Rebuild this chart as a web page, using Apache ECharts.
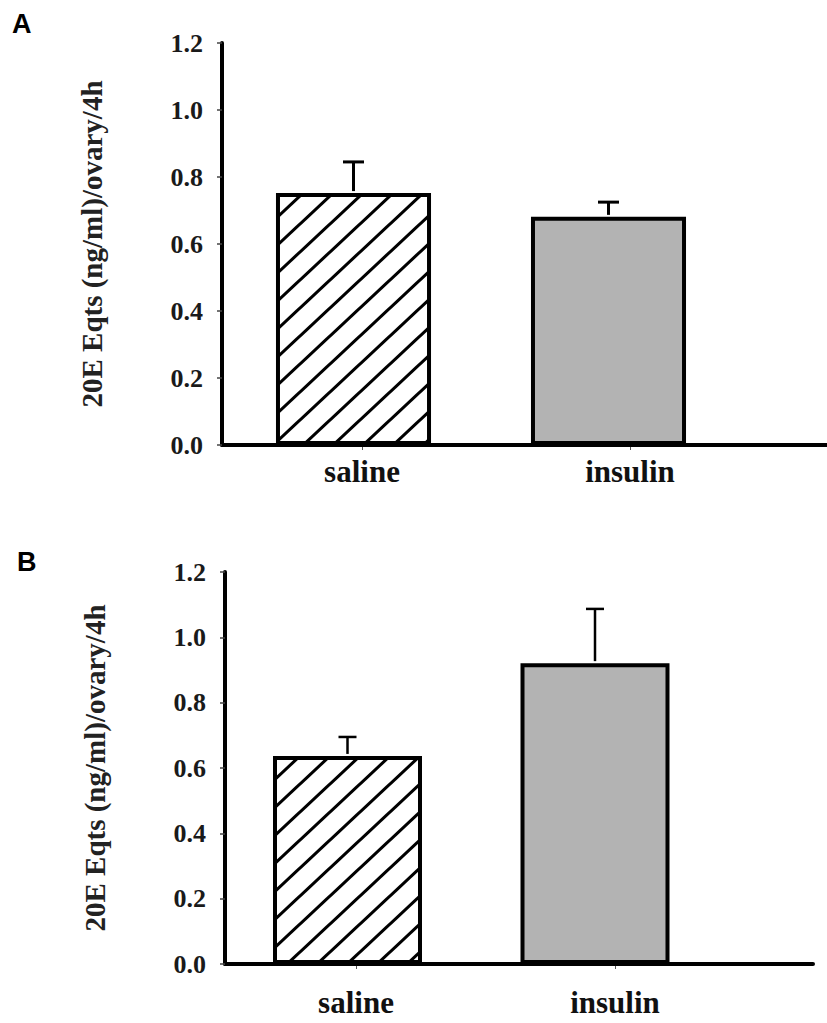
<!DOCTYPE html>
<html>
<head>
<meta charset="utf-8">
<script src="https://cdn.jsdelivr.net/npm/echarts@6/dist/echarts.min.js"></script>
<style>
  html, body { margin: 0; padding: 0; background: #fff; }
  #chart { width: 827px; height: 1023px; }
</style>
</head>
<body>
<div id="chart"></div>
<script>
// ---- data ----
const categories = ['saline', 'insulin'];
const meanA = [0.752, 0.681];
const errA  = [0.093, 0.044];
const meanB = [0.637, 0.921];
const errB  = [0.058, 0.166];
const yMin = 0, yMax = 1.2, yStep = 0.2;
const yTitle = '20E Eqts (ng/ml)/ovary/4h';
const panelLetters = ['A', 'B'];

// ---- hatch pattern ("/" diagonals) ----
function makeHatch() {
  const W = 30, H = 28;
  const c = document.createElement('canvas');
  c.width = W; c.height = H;
  const ctx = c.getContext('2d');
  ctx.fillStyle = '#ffffff';
  ctx.fillRect(0, 0, W, H);
  ctx.strokeStyle = '#000000';
  ctx.lineWidth = 3.1;
  for (let k = -1; k <= 1; k++) {
    ctx.beginPath();
    ctx.moveTo(-W + k * W, 2 * H);
    ctx.lineTo(2 * W + k * W, -H);
    ctx.stroke();
  }
  return c;
}
const hatch = makeHatch();

const serif = 'Liberation Serif';
const gridBase = { outerBoundsMode: 'none', containLabel: false };

// panel layout (pixels)
const panels = [
  { top: 43,  height: 402, axisLeft: 222, frameWidth: 620, labelLeft: 228, labelWidth: 536,
    barLeft: 226, barWidth: 510, barPct: '60.8%', labelMargin: 11, capHalf: 10.5, errWidth: 3,
    mean: meanA, err: errA },
  { top: 572, height: 392, axisLeft: 225, frameWidth: 588, labelLeft: 226.5, labelWidth: 518,
    barLeft: 223.75, barWidth: 495, barPct: '60.2%', labelMargin: 23, capHalf: 9, errWidth: 2.5,
    mean: meanB, err: errB }
];

const grid = [], xAxis = [], yAxis = [], series = [], graphic = [];

panels.forEach((p, i) => {
  const g0 = grid.length;
  // frame grid: y axis + x axis line
  grid.push(Object.assign({ left: p.axisLeft, top: p.top, width: p.frameWidth, height: p.height }, gridBase));
  // label grid
  grid.push(Object.assign({ left: p.labelLeft, top: p.top, width: p.labelWidth, height: p.height }, gridBase));
  // bar grid
  grid.push(Object.assign({ left: p.barLeft, top: p.top, width: p.barWidth, height: p.height }, gridBase));

  // frame axes
  xAxis.push({
    gridIndex: g0, type: 'category', data: categories,
    axisLine: { show: true, lineStyle: { color: '#000', width: 4 } },
    axisTick: { show: false }, axisLabel: { show: false }, splitLine: { show: false }, z: 3
  });
  yAxis.push({
    gridIndex: g0, type: 'value', min: yMin, max: yMax, interval: yStep,
    axisLine: { show: true, lineStyle: { color: '#000', width: 4 } },
    axisTick: { show: true, inside: false, length: 5, lineStyle: { color: '#444', width: 1.5 } },
    axisLabel: {
      show: true, margin: 19, fontFamily: serif, fontWeight: 'bold', fontSize: 26, color: '#1a1a1a',
      formatter: v => v.toFixed(1)
    },
    splitLine: { show: false },
    name: yTitle, nameLocation: 'middle', nameGap: 116, nameRotate: 90,
    nameTextStyle: { fontFamily: serif, fontWeight: 'bold', fontSize: 29, color: '#222' },
    z: 3
  });
  // label axes
  xAxis.push({
    gridIndex: g0 + 1, type: 'category', data: categories,
    axisLine: { show: false },
    axisTick: { show: true, alignWithLabel: true, length: 5, lineStyle: { color: '#555', width: 1 } },
    axisLabel: { show: true, interval: 0, margin: p.labelMargin, fontFamily: serif, fontWeight: 'bold', fontSize: 31, color: '#111' },
    splitLine: { show: false }
  });
  yAxis.push({ gridIndex: g0 + 1, type: 'value', min: yMin, max: yMax, show: false });
  // bar axes
  xAxis.push({ gridIndex: g0 + 2, type: 'category', data: categories, show: false });
  yAxis.push({ gridIndex: g0 + 2, type: 'value', min: yMin, max: yMax, show: false });

  series.push({
    type: 'bar', xAxisIndex: g0 + 2, yAxisIndex: g0 + 2, barWidth: p.barPct, z: 2,
    data: p.mean.map((v, j) => ({
      value: v,
      itemStyle: j === 0
        ? { color: { image: hatch, repeat: 'repeat' }, borderColor: '#000', borderWidth: 4 }
        : { color: '#b3b3b3', borderColor: '#000', borderWidth: 4 }
    })),
    silent: true, animation: false
  });
  series.push({
    type: 'custom', xAxisIndex: g0 + 2, yAxisIndex: g0 + 2, z: 4, silent: true, animation: false,
    data: p.mean.map((v, j) => [j, v, v + p.err[j]]),
    renderItem: (params, api) => {
      const lo = api.coord([api.value(0), api.value(1)]);
      const hi = api.coord([api.value(0), api.value(2)]);
      const st = { stroke: '#000', lineWidth: p.errWidth };
      return {
        type: 'group',
        children: [
          { type: 'line', shape: { x1: lo[0], y1: lo[1] - 2, x2: hi[0], y2: hi[1] }, style: st },
          { type: 'line', shape: { x1: hi[0] - p.capHalf, y1: hi[1], x2: hi[0] + p.capHalf, y2: hi[1] }, style: st }
        ]
      };
    }
  });

  graphic.push({
    type: 'text', left: i === 0 ? 12 : 17, top: i === 0 ? 10 : 548,
    style: { text: panelLetters[i], fontFamily: 'Liberation Sans', fontWeight: 'bold', fontSize: 27, fill: '#000' }
  });
});

const chart = echarts.init(document.getElementById('chart'), null, { renderer: 'svg', width: 827, height: 1023 });
chart.setOption({
  backgroundColor: '#ffffff',
  animation: false,
  grid, xAxis, yAxis, series, graphic
});
</script>
</body>
</html>
